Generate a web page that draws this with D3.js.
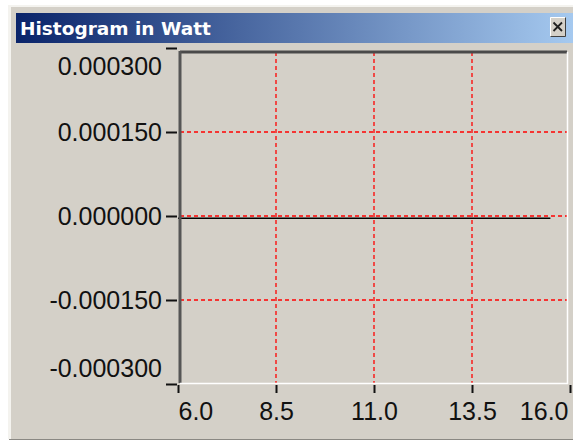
<!DOCTYPE html>
<html lang="en">
<head>
<meta charset="utf-8">
<script src="https://d3js.org/d3.v7.min.js"></script>
<style>
  body { margin: 0; background: #ffffff; }
  svg { display: block; }
</style>
</head>
<body>
<script>
    // chart data
    const title = "Histogram in Watt";
    const binX = [6.0, 6.5, 7.0, 7.5, 8.0, 8.5, 9.0, 9.5, 10.0, 10.5, 11.0, 11.5, 12.0, 12.5, 13.0, 13.5, 14.0, 14.5, 15.0, 15.5];
    const binValues = [-0.000004, -0.000004, -0.000004, -0.000004, -0.000004, -0.000004, -0.000004, -0.000004, -0.000004, -0.000004,
                       -0.000004, -0.000004, -0.000004, -0.000004, -0.000004, -0.000004, -0.000004, -0.000004, -0.000004, -0.000004];
    const xTicks = [6.0, 8.5, 11.0, 13.5, 16.0];
    const yTicks = [0.0003, 0.00015, 0, -0.00015, -0.0003];

    const width = 573, height = 441;

    const svg = d3.select("body").append("svg")
        .attr("width", width)
        .attr("height", height);

    // window frame
    svg.append("rect").attr("x", 9).attr("y", 5).attr("width", 600).attr("height", 434)
        .attr("fill", "#d4d0c8");
    svg.append("line").attr("x1", 9.5).attr("x2", 9.5).attr("y1", 5).attr("y2", 439)
        .attr("stroke", "#f4f3ef").attr("stroke-width", 3);
    svg.append("line").attr("x1", 9).attr("x2", 600).attr("y1", 6).attr("y2", 6)
        .attr("stroke", "#f4f3ef").attr("stroke-width", 2);
    svg.append("line").attr("x1", 9).attr("x2", 600).attr("y1", 439.5).attr("y2", 439.5)
        .attr("stroke", "#8a8883").attr("stroke-width", 1);

    // title bar
    const grad = svg.append("defs").append("linearGradient").attr("id", "tb");
    grad.append("stop").attr("offset", "0%").attr("stop-color", "#0a246a");
    grad.append("stop").attr("offset", "100%").attr("stop-color", "#a6caf0");
    svg.append("rect").attr("x", 16).attr("y", 13).attr("width", 560).attr("height", 30)
        .attr("fill", "url(#tb)");
    svg.append("text").attr("x", 20).attr("y", 35)
        .attr("fill", "#ffffff")
        .style("font-family", "'DejaVu Sans', sans-serif")
        .style("font-weight", "bold")
        .style("font-size", "18.5px")
        .text(title);

    // close button
    const btn = svg.append("g").attr("transform", "translate(550,17)");
    btn.append("rect").attr("width", 16).attr("height", 20).attr("fill", "#d4d0c8");
    btn.append("path").attr("d", "M0.5,19.5 V0.5 H15.5").attr("fill", "none").attr("stroke", "#ffffff");
    btn.append("path").attr("d", "M0.5,19.5 H15.5 V0.5").attr("fill", "none").attr("stroke", "#404040");
    btn.append("path").attr("d", "M3.5,5.5 L12,14 M12,5.5 L3.5,14").attr("stroke", "#202020").attr("stroke-width", 1.8);

    // scales
    const x = d3.scaleLinear().domain([6, 16]).range([178, 570]);
    const y = d3.scaleLinear().domain([-0.0003, 0.0003]).range([384, 48]);

    const plotLeft = 180, plotRight = 567, plotTop = 52, plotBottom = 383;

    // grid
    svg.append("g").selectAll("line")
        .data(xTicks.slice(1, -1))
        .enter().append("line")
        .attr("x1", d => x(d)).attr("x2", d => x(d))
        .attr("y1", plotTop).attr("y2", plotBottom)
        .attr("stroke", "#ff0000").attr("stroke-width", 1.3)
        .attr("stroke-dasharray", "4,3");
    svg.append("g").selectAll("line")
        .data(yTicks.slice(1, -1))
        .enter().append("line")
        .attr("x1", plotLeft).attr("x2", plotRight)
        .attr("y1", d => y(d)).attr("y2", d => y(d))
        .attr("stroke", "#ff0000").attr("stroke-width", 1.3)
        .attr("stroke-dasharray", "4,3");

    // data line
    const line = d3.line().x(d => x(d[0])).y(d => y(d[1]));
    svg.append("path")
        .datum(binX.map((d, i) => [d, binValues[i]]))
        .attr("d", line)
        .attr("fill", "none")
        .attr("stroke", "#000000")
        .attr("stroke-width", 1.5);

    // sunken plot border
    svg.append("line").attr("x1", plotLeft).attr("x2", plotRight).attr("y1", 52).attr("y2", 52)
        .attr("stroke", "#4a4a4a").attr("stroke-width", 3);
    svg.append("line").attr("x1", plotLeft).attr("x2", plotLeft).attr("y1", 51).attr("y2", plotBottom)
        .attr("stroke", "#555555").attr("stroke-width", 3);
    svg.append("line").attr("x1", plotLeft).attr("x2", plotRight + 1).attr("y1", plotBottom + 0.5).attr("y2", plotBottom + 0.5)
        .attr("stroke", "#ffffff").attr("stroke-width", 1.5);
    svg.append("line").attr("x1", plotRight + 0.5).attr("x2", plotRight + 0.5).attr("y1", 52).attr("y2", plotBottom + 1)
        .attr("stroke", "#ffffff").attr("stroke-width", 1.5);

    // y axis (plain hyphen for negatives, like the original)
    const fmtY = d3.format(".6f");
    const yAxis = d3.axisLeft(y)
        .tickValues(yTicks)
        .tickFormat(d => fmtY(d).replace("\u2212", "-"))
        .tickSize(11)
        .tickSizeOuter(0)
        .tickPadding(4);
    const gy = svg.append("g").attr("transform", "translate(177,0)").call(yAxis);
    gy.select(".domain").remove();
    gy.selectAll("line").attr("stroke", "#111").attr("stroke-width", 2);
    gy.selectAll("text")
        .style("font-family", "'Liberation Sans', Arial, sans-serif")
        .style("font-size", "25px")
        .attr("fill", "#111")
        .attr("dy", (d, i) => i === 0 ? "1.05em" : (i === yTicks.length - 1 ? "-0.3em" : "0.35em"));

    // x axis
    const xAxis = d3.axisBottom(x)
        .tickValues(xTicks)
        .tickFormat(d3.format(".1f"))
        .tickSize(8)
        .tickSizeOuter(0)
        .tickPadding(9);
    const gx = svg.append("g").attr("transform", "translate(0,385)").call(xAxis);
    gx.select(".domain").remove();
    gx.selectAll("line").attr("stroke", "#111").attr("stroke-width", 2);
    gx.selectAll("text")
        .style("font-family", "'Liberation Sans', Arial, sans-serif")
        .style("font-size", "25px")
        .attr("fill", "#111")
        .attr("text-anchor", (d, i) => i === 0 ? "start" : (i === xTicks.length - 1 ? "end" : "middle"))
        .attr("dx", (d, i) => i === xTicks.length - 1 ? "-2" : "0");
</script>
</body>
</html>
